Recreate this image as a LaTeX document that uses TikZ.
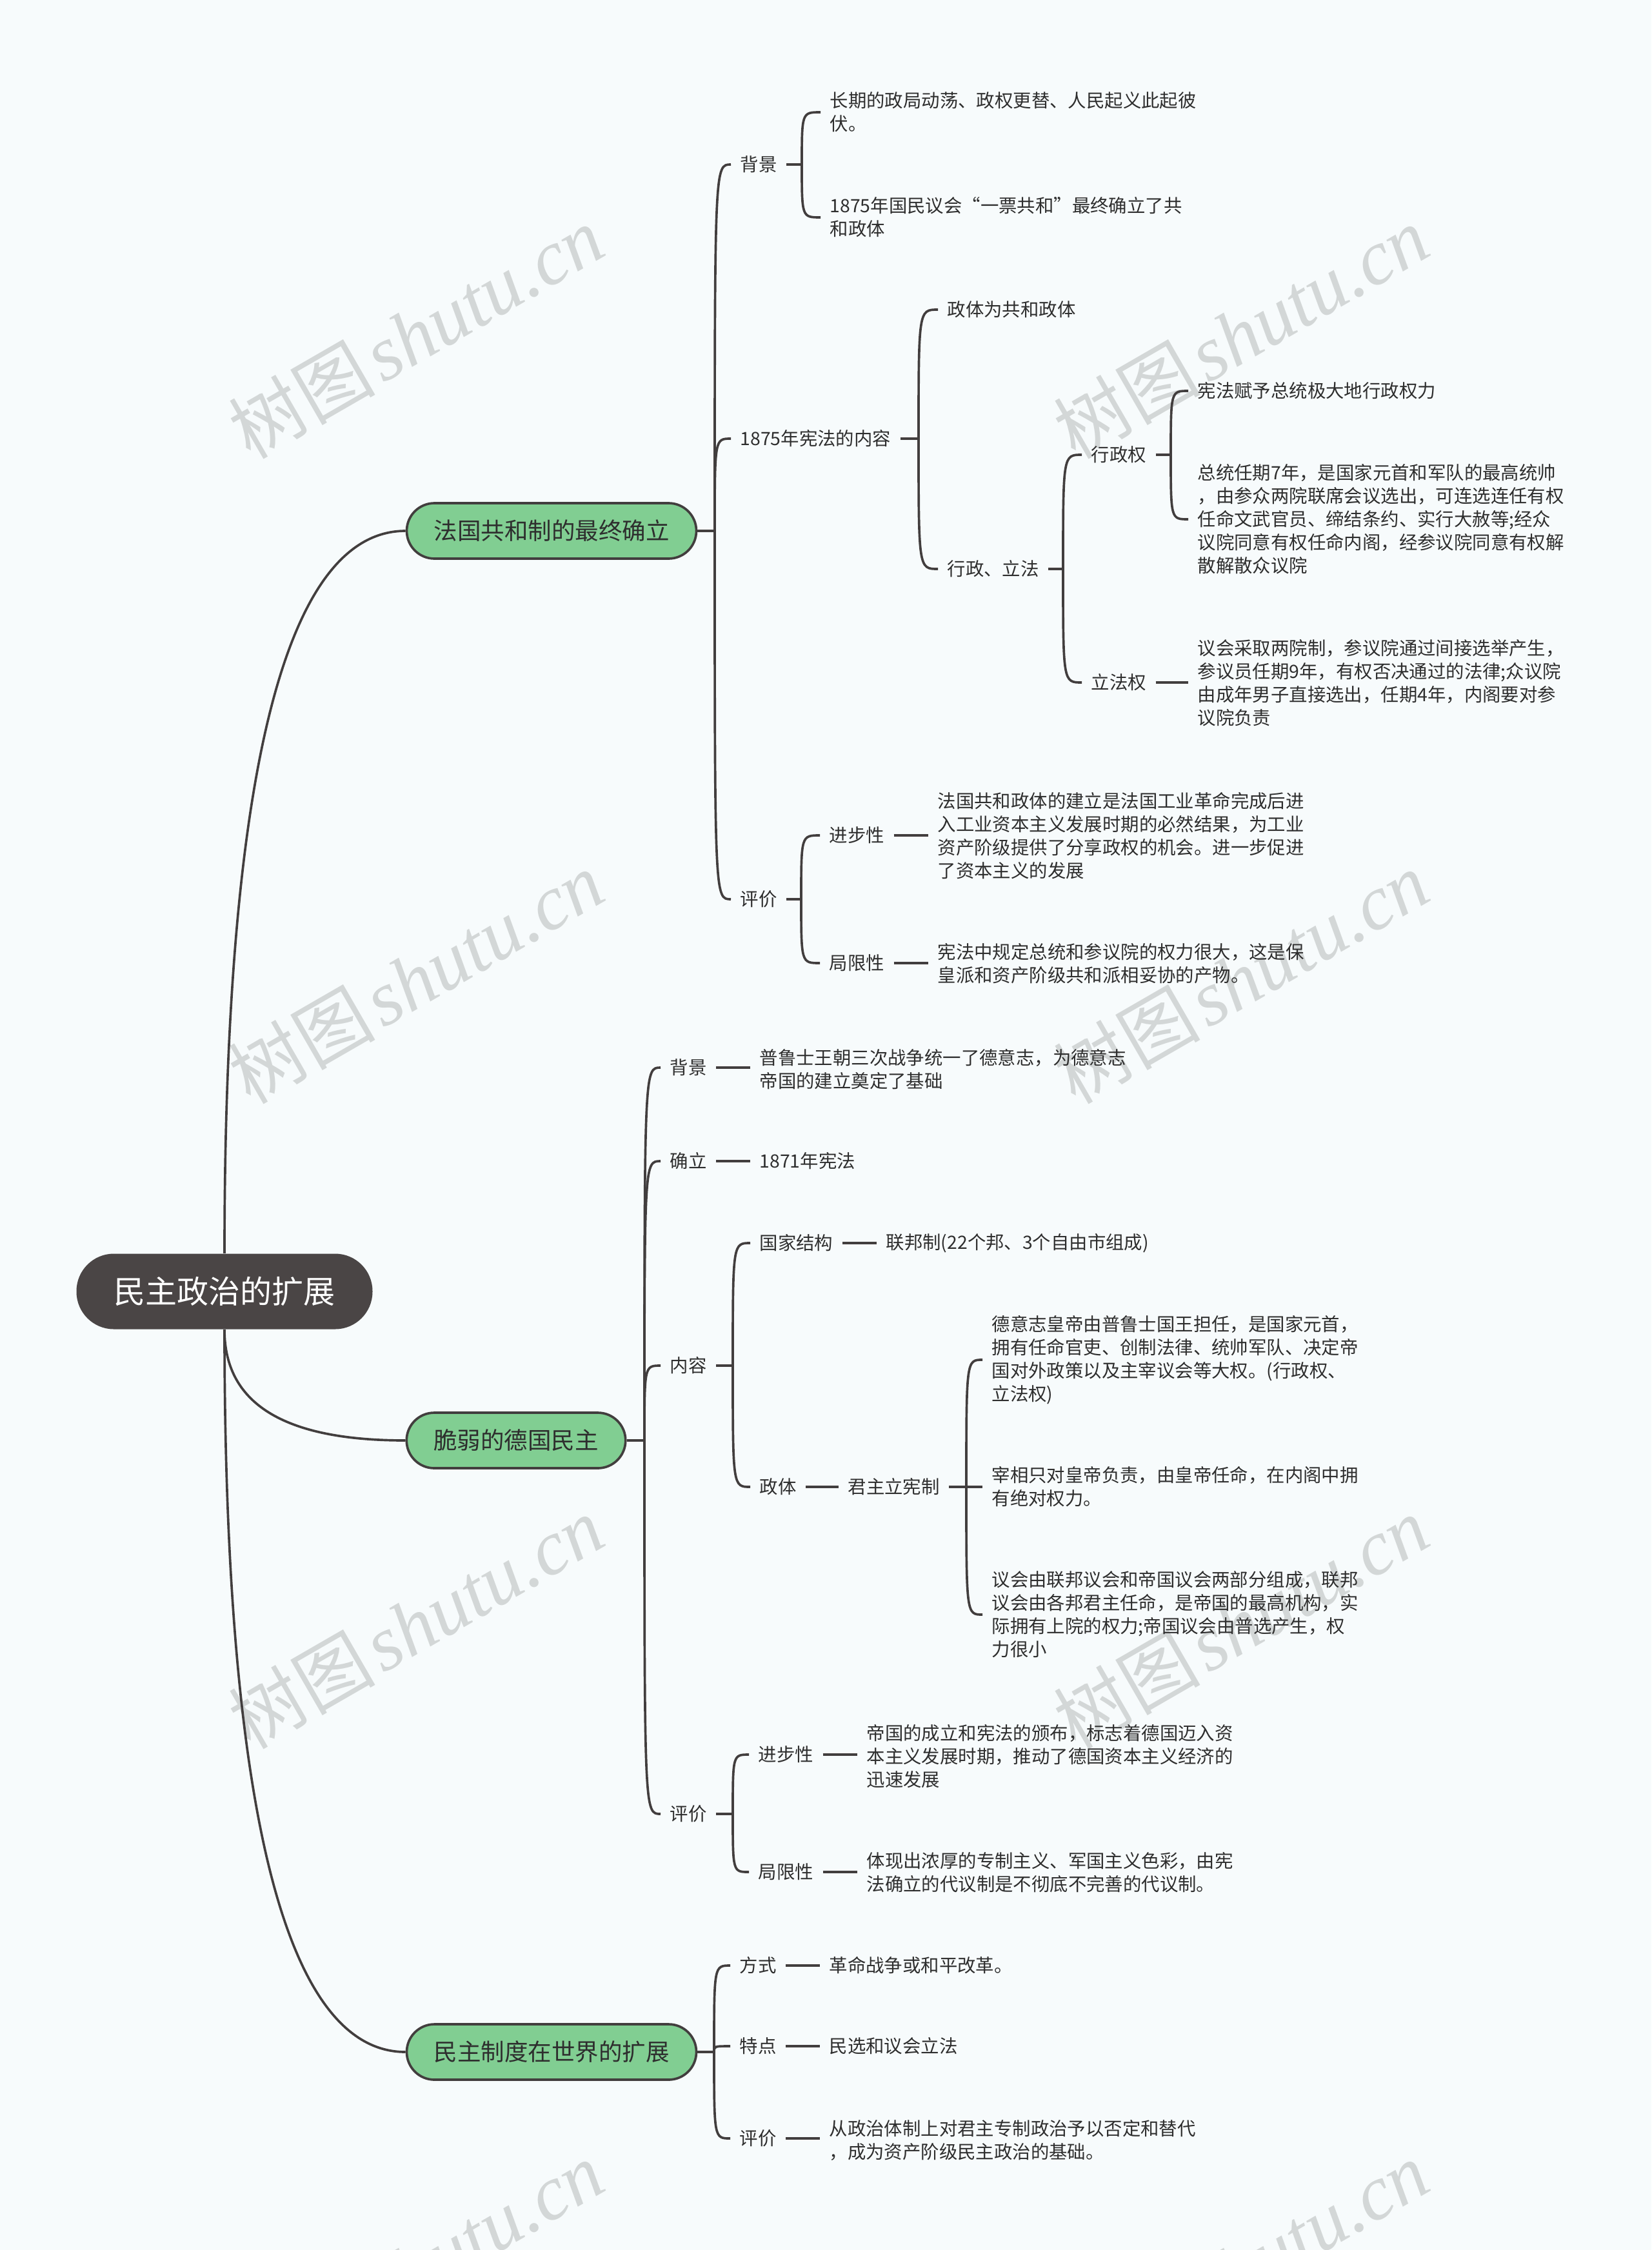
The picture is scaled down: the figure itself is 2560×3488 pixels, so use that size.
\documentclass[tikz,border=0pt]{standalone}
\usepackage{fontspec}
\newfontfamily\cjk{Noto Sans CJK SC}
\newfontfamily\wmserif{Liberation Serif}
\usetikzlibrary{calc}
\definecolor{bgc}{HTML}{F7FBFC}
\definecolor{linec}{HTML}{423E3E}
\definecolor{rootc}{HTML}{4A4545}
\definecolor{greenc}{HTML}{81CE92}
\definecolor{txtc}{HTML}{2E2E2E}
\definecolor{wmc}{HTML}{D3D7D7}
\pgfdeclarelayer{bgl}
\pgfdeclarelayer{lines}
\pgfsetlayers{bgl,lines,main}
\tikzset{
  rootnode/.style={fill=rootc, text=white, rounded corners=17.4pt, minimum width=137.7pt,
    minimum height=35.1pt, inner sep=0pt, font=\cjk\fontsize{14.7pt}{17pt}\selectfont},
  mainnode/.style={fill=greenc, draw=linec, line width=1.1pt, rounded corners=12.9pt,
    minimum height=25.8pt, inner xsep=12.6pt, inner ysep=0pt, text=txtc,
    font=\cjk\fontsize{10.95pt}{13pt}\selectfont},
  leaf/.style={anchor=west, inner xsep=4.2pt, inner ysep=0pt, align=left, text=txtc,
    font=\cjk\fontsize{8.52pt}{10.8pt}\selectfont},
  conn/.style={draw=linec, line width=1.1pt},
  wm/.style={rotate=30, text=wmc, inner sep=0pt}
}
\newcommand\mmcurve[2]{\draw[conn] (#1) .. controls (#1 |- #2) and (#1 |- #2) .. (#2);}
\newcommand\wmtext{{\cjk\fontsize{34pt}{36pt}\selectfont 树图} {\wmserif\itshape\fontsize{36pt}{38pt}\selectfont shutu.cn}}
\begin{document}
\begin{tikzpicture}[x=0.3pt,y=-0.3pt]
\useasboundingbox (0,0) rectangle (2560,3488);
\begin{pgfonlayer}{bgl}
  \fill[bgc] (0,0) rectangle (2560,3488);
  \node[wm] (wm1) at (645,516) {\wmtext};
  \node[wm] (wm2) at (1924,516) {\wmtext};
  \node[wm] (wm3) at (645,1516) {\wmtext};
  \node[wm] (wm4) at (1924,1516) {\wmtext};
  \node[wm] (wm5) at (645,2516) {\wmtext};
  \node[wm] (wm6) at (1924,2516) {\wmtext};
  \node[wm] (wm7) at (645,3516) {\wmtext};
  \node[wm] (wm8) at (1924,3516) {\wmtext};
\end{pgfonlayer}

% root and main branches
\node[rootnode] (root) at (348,2002) {民主政治的扩展};
\node[mainnode] (b1) at (855,823) {法国共和制的最终确立};
\node[mainnode] (b2) at (800,2233) {脆弱的德国民主};
\node[mainnode] (b3) at (855,3181) {民主制度在世界的扩展};

% ---- France ----
\coordinate (J1) at (1108,823);
\node[leaf] (fbg) at (1133,255) {背景};
\coordinate (Jfbg) at (1243,255);
\node[leaf] (fbg1) at (1272,174) {长期的政局动荡、政权更替、人民起义此起彼\\伏。};
\node[leaf] (fbg2) at (1272,337) {1875年国民议会“一票共和”最终确立了共\\和政体};
\node[leaf] (fcon) at (1133,680) {1875年宪法的内容};
\coordinate (Jfcon) at (1424,680);
\node[leaf] (fc1) at (1454,480) {政体为共和政体};
\node[leaf] (fc2) at (1454,882) {行政、立法};
\coordinate (Jfc2) at (1648,882);
\node[leaf] (fx) at (1677,705) {行政权};
\coordinate (Jfx) at (1815,705);
\node[leaf] (fx1) at (1842,606) {宪法赋予总统极大地行政权力};
\node[leaf] (fx2) at (1842,805) {总统任期7年，是国家元首和军队的最高统帅\\，由参众两院联席会议选出，可连选连任有权\\任命文武官员、缔结条约、实行大赦等;经众\\议院同意有权任命内阁，经参议院同意有权解\\散解散众议院};
\node[leaf] (fl) at (1677,1058) {立法权};
\node[leaf] (fl1) at (1842,1059) {议会采取两院制，参议院通过间接选举产生，\\参议员任期9年，有权否决通过的法律;众议院\\由成年男子直接选出，任期4年，内阁要对参\\议院负责};
\node[leaf] (fev) at (1133,1394) {评价};
\coordinate (Jfev) at (1242,1394);
\node[leaf] (fp) at (1271,1295) {进步性};
\node[leaf] (fp1) at (1439,1296) {法国共和政体的建立是法国工业革命完成后进\\入工业资本主义发展时期的必然结果，为工业\\资产阶级提供了分享政权的机会。进一步促进\\了资本主义的发展};
\node[leaf] (flim) at (1271,1493) {局限性};
\node[leaf] (flim1) at (1439,1494) {宪法中规定总统和参议院的权力很大，这是保\\皇派和资产阶级共和派相妥协的产物。};

% ---- Germany ----
\coordinate (J2) at (999,2233);
\node[leaf] (gbg) at (1024,1655) {背景};
\node[leaf] (gbg1) at (1163,1658) {普鲁士王朝三次战争统一了德意志，为德意志\\帝国的建立奠定了基础};
\node[leaf] (gest) at (1024,1800) {确立};
\node[leaf] (gest1) at (1163,1800) {1871年宪法};
\node[leaf] (gcon) at (1024,2117) {内容};
\coordinate (Jgcon) at (1136,2117);
\node[leaf] (gstr) at (1163,1927) {国家结构};
\node[leaf] (gstr1) at (1359,1927) {联邦制(22个邦、3个自由市组成)};
\node[leaf] (gpol) at (1163,2305) {政体};
\node[leaf] (gpol1) at (1300,2305) {君主立宪制};
\coordinate (Jgpol1) at (1498,2305);
\node[leaf] (gm1) at (1523,2108) {德意志皇帝由普鲁士国王担任，是国家元首，\\拥有任命官吏、创制法律、统帅军队、决定帝\\国对外政策以及主宰议会等大权。(行政权、\\立法权)};
\node[leaf] (gm2) at (1523,2305) {宰相只对皇帝负责，由皇帝任命，在内阁中拥\\有绝对权力。};
\node[leaf] (gm3) at (1523,2503) {议会由联邦议会和帝国议会两部分组成，联邦\\议会由各邦君主任命，是帝国的最高机构，实\\际拥有上院的权力;帝国议会由普选产生，权\\力很小};
\node[leaf] (gev) at (1024,2812) {评价};
\coordinate (Jgev) at (1136,2812);
\node[leaf] (gp) at (1161,2720) {进步性};
\node[leaf] (gp1) at (1329,2723) {帝国的成立和宪法的颁布，标志着德国迈入资\\本主义发展时期，推动了德国资本主义经济的\\迅速发展};
\node[leaf] (glim) at (1161,2902) {局限性};
\node[leaf] (glim1) at (1329,2903) {体现出浓厚的专制主义、军国主义色彩，由宪\\法确立的代议制是不彻底不完善的代议制。};

% ---- World ----
\coordinate (J3) at (1107,3181);
\node[leaf] (wway) at (1132,3047) {方式};
\node[leaf] (wway1) at (1271,3047) {革命战争或和平改革。};
\node[leaf] (wfeat) at (1132,3172) {特点};
\node[leaf] (wfeat1) at (1271,3172) {民选和议会立法};
\node[leaf] (wev) at (1132,3315) {评价};
\node[leaf] (wev1) at (1271,3318) {从政治体制上对君主专制政治予以否定和替代\\，成为资产阶级民主政治的基础。};

\begin{pgfonlayer}{lines}
  % root connectors
  \draw[conn] (root.north) .. controls ($(root.north)+(0,-638)$) and ($(b1.west)+(-211,0)$) .. (b1.west);
  \draw[conn] (root.south) .. controls ($(root.south)+(0,120)$) and ($(b2.west)+(-180,0)$) .. (b2.west);
  \draw[conn] (root.south) .. controls ($(root.south)+(0,638)$) and ($(b3.west)+(-211,0)$) .. (b3.west);
  % France
  \draw[conn] (b1.east) -- (J1);
  \mmcurve{J1}{fbg.west}
  \mmcurve{J1}{fcon.west}
  \mmcurve{J1}{fev.west}
  \draw[conn] (fbg.east) -- (Jfbg);
  \mmcurve{Jfbg}{fbg1.west}
  \mmcurve{Jfbg}{fbg2.west}
  \draw[conn] (fcon.east) -- (Jfcon);
  \mmcurve{Jfcon}{fc1.west}
  \mmcurve{Jfcon}{fc2.west}
  \draw[conn] (fc2.east) -- (Jfc2);
  \mmcurve{Jfc2}{fx.west}
  \mmcurve{Jfc2}{fl.west}
  \draw[conn] (fx.east) -- (Jfx);
  \mmcurve{Jfx}{fx1.west}
  \mmcurve{Jfx}{fx2.west}
  \draw[conn] (fl.east) -- (fl.east -| fl1.west);
  \draw[conn] (fev.east) -- (Jfev);
  \mmcurve{Jfev}{fp.west}
  \mmcurve{Jfev}{flim.west}
  \draw[conn] (fp.east) -- (fp.east -| fp1.west);
  \draw[conn] (flim.east) -- (flim.east -| flim1.west);
  % Germany
  \draw[conn] (b2.east) -- (J2);
  \mmcurve{J2}{gbg.west}
  \mmcurve{J2}{gest.west}
  \mmcurve{J2}{gcon.west}
  \mmcurve{J2}{gev.west}
  \draw[conn] (gbg.east) -- (gbg.east -| gbg1.west);
  \draw[conn] (gest.east) -- (gest1.west);
  \draw[conn] (gcon.east) -- (Jgcon);
  \mmcurve{Jgcon}{gstr.west}
  \mmcurve{Jgcon}{gpol.west}
  \draw[conn] (gstr.east) -- (gstr1.west);
  \draw[conn] (gpol.east) -- (gpol1.west);
  \draw[conn] (gpol1.east) -- (Jgpol1);
  \mmcurve{Jgpol1}{gm1.west}
  \mmcurve{Jgpol1}{gm2.west}
  \mmcurve{Jgpol1}{gm3.west}
  \draw[conn] (gev.east) -- (Jgev);
  \mmcurve{Jgev}{gp.west}
  \mmcurve{Jgev}{glim.west}
  \draw[conn] (gp.east) -- (gp.east -| gp1.west);
  \draw[conn] (glim.east) -- (glim.east -| glim1.west);
  % World
  \draw[conn] (b3.east) -- (J3);
  \mmcurve{J3}{wway.west}
  \mmcurve{J3}{wfeat.west}
  \mmcurve{J3}{wev.west}
  \draw[conn] (wway.east) -- (wway1.west);
  \draw[conn] (wfeat.east) -- (wfeat1.west);
  \draw[conn] (wev.east) -- (wev.east -| wev1.west);
\end{pgfonlayer}
\end{tikzpicture}
\end{document}
